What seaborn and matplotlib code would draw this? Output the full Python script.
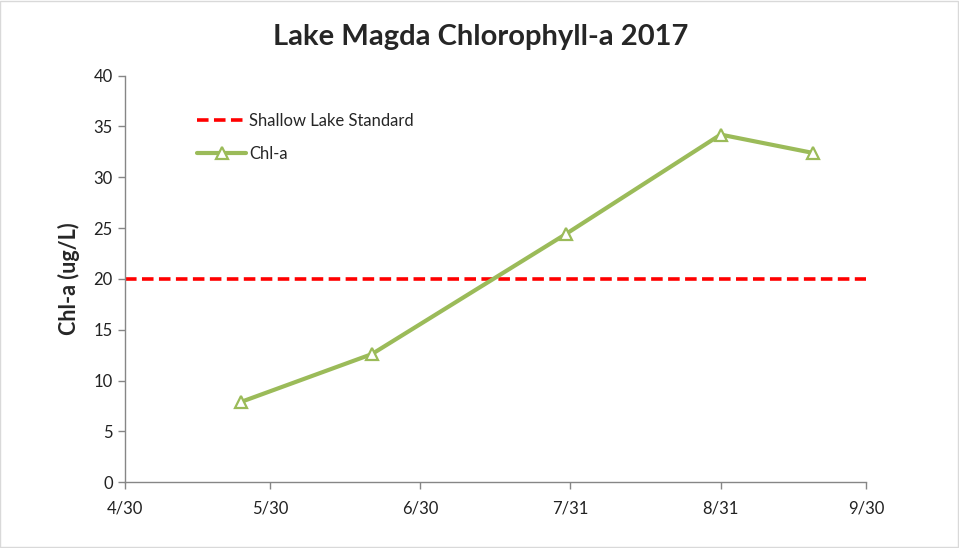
import matplotlib
matplotlib.use("Agg")
import matplotlib.pyplot as plt
import seaborn as sns
import pandas as pd

# Sampling dates and chlorophyll-a results (ug/L)
sample_dates = ["2017-05-24", "2017-06-20", "2017-07-30", "2017-08-31", "2017-09-19"]
chl_a = [7.9, 12.6, 24.4, 34.2, 32.4]
standard_value = 20.0
tick_dates = ["2017-04-30", "2017-05-30", "2017-06-30", "2017-07-31", "2017-08-31", "2017-09-30"]
tick_labels = ["4/30", "5/30", "6/30", "7/31", "8/31", "9/30"]

df = pd.DataFrame({"date": pd.to_datetime(sample_dates), "chl": chl_a})

sns.set_style("ticks")
plt.rcParams["font.family"] = ["Lato", "DejaVu Sans"]

fig = plt.figure(figsize=(9.59, 5.48), dpi=100)
ax = fig.add_axes([0.130, 0.120, 0.773, 0.742])

green = "#9BBB59"
grey = "#868686"

ax.axhline(standard_value, color="#FF0000", lw=2.6, ls=(0, (3.2, 1.5)),
           label="Shallow Lake Standard", zorder=2)
sns.lineplot(data=df, x="date", y="chl", ax=ax, color=green, lw=3.0,
             marker="^", markersize=8.5, markerfacecolor="white",
             markeredgecolor=green, markeredgewidth=1.6, label="Chl-a", zorder=3)

ax.set_xlim(pd.Timestamp(tick_dates[0]), pd.Timestamp(tick_dates[-1]))
ax.set_ylim(0, 40)
ax.set_yticks(range(0, 41, 5))
ax.set_xticks(pd.to_datetime(tick_dates))
ax.set_xticklabels(tick_labels)

for side in ("top", "right"):
    ax.spines[side].set_visible(False)
for side in ("left", "bottom"):
    ax.spines[side].set_color(grey)
    ax.spines[side].set_linewidth(1.0)
ax.tick_params(axis="both", colors=grey, length=5, width=1.0, direction="out",
               labelsize=12, labelcolor="#222222")
ax.tick_params(axis="x", pad=8)

ax.set_xlabel("")
ax.set_ylabel("Chl-a (ug/L)", fontsize=15.5, fontweight="bold", labelpad=10)
fig.text(0.5015, 0.932, "Lake Magda Chlorophyll-a 2017", ha="center", va="center",
         fontsize=21, fontweight="bold")

leg = ax.legend(loc="upper left", bbox_to_anchor=(0.078, 0.945), frameon=False,
                fontsize=12, handlelength=2.9, handletextpad=0.2, labelspacing=1.0)

fig.patches.append(plt.Rectangle((0.0005, 0.001), 0.998, 0.997, transform=fig.transFigure,
                                 fill=False, edgecolor="#D9D9D9", lw=1.0))

fig.savefig("out.png", dpi=100)
